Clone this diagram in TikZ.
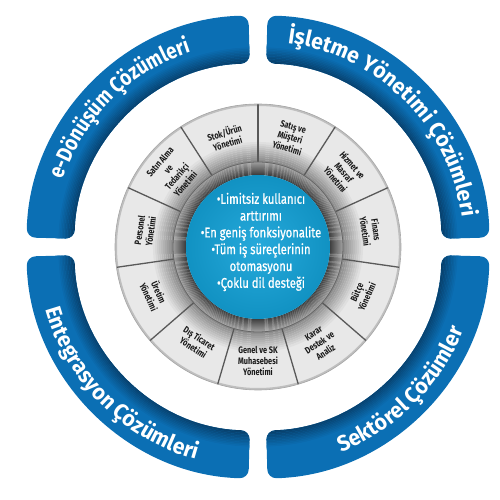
\documentclass[tikz,border=0pt]{standalone}
\usepackage{fontspec}
\setmainfont{Fira Sans}
\newfontfamily\condfont[FakeStretch=0.78]{Fira Sans}
\newfontfamily\ctrfont[FakeStretch=0.8,FakeBold=0.8]{Fira Sans}
\newfontfamily\bandfnt[FakeStretch=0.85]{Fira Sans}
\newfontfamily\bandfntw[FakeStretch=0.96]{Fira Sans}
\usetikzlibrary{calc,decorations.text}
\definecolor{bandblue}{HTML}{0B6FB4}
\definecolor{banddark}{HTML}{073D68}
\definecolor{cblue}{HTML}{13A2D8}
\definecolor{segbase}{HTML}{E8E8E8}
\definecolor{segdark}{HTML}{8C8C8C}
\tikzset{
  seglbl/.style={align=center, font=\condfont\bfseries\fontsize{9.4}{11.2}\selectfont, text=black!90, inner sep=0pt},
  divider/.style={draw=black!65, line width=1.3pt},
  ctrtext/.style={align=center, text=white, font=\ctrfont\fontsize{14}{16.8}\selectfont, inner sep=0pt},
  bandtxt/.style={decorate, decoration={text along path, text align=center, text color=white,
     text={|\bandfnt\bfseries\fontsize{22}{22}\selectfont|#1}}},
  bandtxtw/.style={decorate, decoration={text along path, text align=center, text color=white,
     text={|\bandfntw\bfseries\fontsize{22}{22}\selectfont|#1}}},
}
\begin{document}
\begin{tikzpicture}[x=1pt,y=1pt]
\useasboundingbox (0,0) rectangle (500,500);
\coordinate (C) at (258,253);

% ---- outer blue bands ----
\foreach \m in {135,45,225,315}{
  \coordinate (Q) at ($(C)+(\m:5)$);
  \pgfmathsetmacro\aa{\m-45+1.5}
  \pgfmathsetmacro\ab{\m+45-1.5}
  \begin{scope}
    \clip[rounded corners=9pt] ($(Q)+(\aa:228)$) arc[start angle=\aa,end angle=\ab,radius=228]
       -- ($(Q)+(\ab:180)$) arc[start angle=\ab,end angle=\aa,radius=180] -- cycle;
    \fill[bandblue] (Q) circle (240);
    \foreach \k in {0,...,11}{
      \pgfmathsetmacro\pp{\k*100/11}
      \draw[line width=1.6pt, draw=bandblue!\pp!banddark] (Q) circle (180.5+1.5*\k);
    }
  \end{scope}
}
\coordinate (Qtl) at ($(C)+(135:5)$);
\coordinate (Qtr) at ($(C)+(45:5)$);
\coordinate (Qbl) at ($(C)+(225:5)$);
\coordinate (Qbr) at ($(C)+(315:5)$);
\path[bandtxt={e-Dönüşüm Çözümleri}] ($(Qtl)+(179:202)$) arc[start angle=179,end angle=91,radius=202];
\path[bandtxtw={İşletme Yönetimi Çözümleri}] ($(Qtr)+(89.5:202)$) arc[start angle=89.5,end angle=0.5,radius=202];
\path[bandtxtw={Entegrasyon Çözümleri}] ($(Qbl)+(181:217)$) arc[start angle=181,end angle=269,radius=217];
\path[bandtxtw={Sektörel Çözümler}] ($(Qbr)+(271:217)$) arc[start angle=271,end angle=359,radius=217];

% ---- grey segments ----
\foreach \i in {0,...,10}{
  \pgfmathsetmacro\sa{90+32.7273*\i}
  \pgfmathsetmacro\sb{\sa+32.7273}
  \begin{scope}
    \clip ($(C)+(\sa:143)$) arc[start angle=\sa,end angle=\sb,radius=143]
       -- ($(C)+(\sb:85)$) arc[start angle=\sb,end angle=\sa,radius=85] -- cycle;
    \fill[segbase] (C) circle (150);
    \foreach \k in {0,...,9}{
      \pgfmathsetmacro\pp{\k*10}
      \draw[line width=2.1pt, draw=segbase!\pp!segdark] (C) circle (86+2*\k);
    }
    \draw[line width=2pt, draw=black!25] (C) circle (142);
  \end{scope}
}
\foreach \i in {0,...,10}{
  \pgfmathsetmacro\sa{90+32.7273*\i}
  \draw[divider] ($(C)+(\sa:84)$) -- ($(C)+(\sa:143)$);
}
\draw[black!35, line width=0.6pt] (C) circle (143);

% ---- inner dark ring ----
\foreach \k in {0,...,12}{
  \pgfmathsetmacro\pp{75-3*\k}
  \draw[line width=1.1pt, draw=black!\pp] (C) circle (72.5+\k);
}
\draw[black!60, line width=0.8pt] (C) circle (85);

% ---- centre circle ----
\shade[inner color=cblue!92!white, outer color=cblue!90!black] (C) circle (72);
\node[ctrtext] (ctr) at (261,258) {•Limitsiz kullanıcı\\arttırımı\\•En geniş fonksiyonalite\\•Tüm iş süreçlerinin\\otomasyonu\\•Çoklu dil desteği};

% ---- segment labels ----
\node[seglbl, rotate=16.36]  (s1)  at ($(C)+(106.36:114)$) {Stok/Ürün\\Yönetimi};
\node[seglbl, rotate=49.09]  (s2)  at ($(C)+(139.09:113)$) {Satın Alma\\ve\\Tedarikçi\\Yönetimi};
\node[seglbl, rotate=81.82]  (s3)  at ($(C)+(171.82:114)$) {Personel\\Yönetimi};
\node[seglbl, rotate=-65.45] (s4)  at ($(C)+(204.55:114)$) {Üretim\\Yönetimi};
\node[seglbl, rotate=-32.73] (s5)  at ($(C)+(237.27:114)$) {Dış Ticaret\\Yönetimi};
\node[seglbl, rotate=0]      (s6)  at ($(C)+(270:114)$)    {Genel ve SK\\Muhasebesi\\Yönetimi};
\node[seglbl, rotate=32.73]  (s7)  at ($(C)+(302.73:114)$) {Karar\\Destek ve\\Analiz};
\node[seglbl, rotate=65.45]  (s8)  at ($(C)+(335.45:114)$) {Bütçe\\Yönetimi};
\node[seglbl, rotate=-81.82] (s9)  at ($(C)+(8.18:114)$)   {Finans\\Yönetimi};
\node[seglbl, rotate=-49.09] (s10) at ($(C)+(40.91:114)$)  {Hizmet ve\\Masraf\\Yönetimi};
\node[seglbl, rotate=-16.36] (s11) at ($(C)+(73.64:114)$)  {Satış ve\\Müşteri\\Yönetimi};
\end{tikzpicture}
\end{document}
